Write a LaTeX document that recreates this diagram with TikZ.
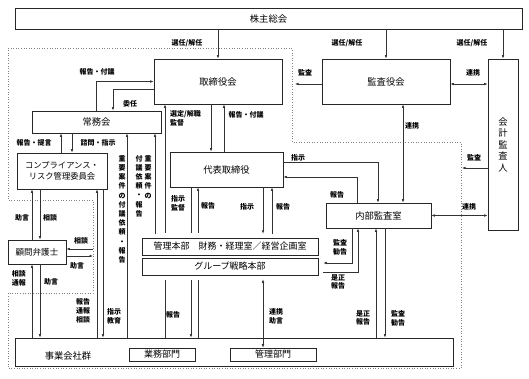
\documentclass[tikz,border=0pt]{standalone}
\usepackage{fontspec}
\setmainfont{Noto Sans CJK JP}
\usetikzlibrary{arrows.meta,backgrounds}
\begin{document}
\begin{tikzpicture}[x=1pt,y=-1pt,
  box/.style={draw=black!85, line width=0.8pt, fill=white, inner sep=0pt, font=\fontsize{9.3}{11}\selectfont},
  ibox/.style={box, line width=0.6pt, minimum width=176, minimum height=17, font=\fontsize{9}{10}\selectfont},
  title/.style={inner sep=0pt, font=\fontsize{9.3}{11}\selectfont},
  lbl/.style={inner sep=0pt, align=center, font=\bfseries\fontsize{7}{8.8}\selectfont},
  vlbl/.style={inner sep=0pt, align=center, anchor=north, font=\bfseries\fontsize{7}{9.2}\selectfont},
  conn/.style={draw=black!80, line width=0.6pt},
  arr/.style={conn, -{Latex[length=3.5pt,width=2.6pt]}},
  darr/.style={conn, {Latex[length=3.5pt,width=2.6pt]}-{Latex[length=3.5pt,width=2.6pt]}},
  zone/.style={draw=gray, dotted, line width=0.6pt},
]
\useasboundingbox (0,0) rectangle (529,378);

% ---------- boxes ----------
\node[box, minimum width=507, minimum height=21] (kabu) at (268.5,18.5) {株主総会};
\node[box, minimum width=128, minimum height=45] (tori) at (218,81.5) {取締役会};
\node[box, minimum width=128, minimum height=45] (kansa) at (386,81.5) {監査役会};
\node[box, minimum width=30, minimum height=171, align=center, font=\fontsize{9.3}{11.5}\selectfont] (kaikei) at (503,144.5) {会\\計\\監\\査\\人};
\node[box, minimum width=129, minimum height=22] (jomu) at (96.5,122) {常務会};
\node[box, minimum width=90, minimum height=36, align=center, font=\fontsize{8.3}{11}\selectfont] (comp) at (62,171) {コンプライアンス・\\リスク管理委員会};
\node[box, minimum width=113, minimum height=35] (daihyo) at (226.5,169.5) {代表取締役};
\node[box, minimum width=105, minimum height=25] (naibu) at (378.5,215.5) {内部監査室};
\node[box, minimum width=58, minimum height=24, font=\fontsize{8.5}{10}\selectfont] (komon) at (37,252) {顧問弁護士};
\node[draw=gray!80, double=white, double distance=1.2pt, line width=0.5pt, fill=white, minimum width=186, minimum height=45, inner sep=0pt] (kanri) at (230,256.5) {};
\node[ibox] (honbu) at (230,246.5) {管理本部　財務・経理室／経営企画室};
\node[ibox] (senryaku) at (230,266.5) {グループ戦略本部};
\node[box, minimum width=438, minimum height=28] (jigyo) at (234,352) {};
\node[title] (jigyoT) at (68,356) {事業会社群};
\node[box, line width=0.6pt, minimum width=66, minimum height=13, font=\fontsize{9}{10}\selectfont] (gyomu) at (162,354.5) {業務部門};
\node[box, line width=0.6pt, minimum width=86, minimum height=13, font=\fontsize{9}{10}\selectfont] (kanribu) at (273,354.5) {管理部門};

% ---------- guide coordinates ----------
\foreach \xx in {32,40,61,72,97,103,113,127,155,165,191,198,211,224,263,272,376,385,403}
  \coordinate (v\xx) at (\xx,0);
\coordinate (kansaEnd) at (295,84);
\coordinate (kaikeiEnd) at (462,168);
\coordinate (inin) at (113,89);
\coordinate (shijiN) at (378,162);
\coordinate (hokokuN) at (357,177);
\coordinate (kansaK) at (352,263);
\coordinate (zesei) at (358,272);
\coordinate (soudanR) at (93,249);
\coordinate (jogenR) at (93,256);

% ---------- background: zone and lines passing behind the kanri box ----------
\begin{pgfonlayer}{background}
\draw[zone] (8,48) -- (292,48) -- (292,142) -- (461,142) -- (461,368) -- (8,368) -- (8,293) -- (93,293) -- (93,200) -- (8,200) -- cycle;
\draw[arr] (jigyo.north -| v165) -- (tori.south -| v165);
\draw[arr] (daihyo.south -| v191) -- (jigyo.north -| v191);
\draw[arr] (jigyo.north -| v198) -- (daihyo.south -| v198);
\end{pgfonlayer}

% ---------- connectors ----------
\draw[arr] (kabu.south -| tori.north) -- (tori.north);
\draw[arr] (kabu.south -| kansa.north) -- (kansa.north);
\draw[arr] (kabu.south -| kaikei.north) -- (kaikei.north);
\draw[arr] (kansa.west |- kansaEnd) -- (kansaEnd);
\draw[darr] (kansa.east |- kansaEnd) -- (kaikei.west |- kansaEnd);
\draw[darr] (kansa.south -| v403) -- (naibu.north -| v403);
\draw[arr] (kaikei.west |- kaikeiEnd) -- (kaikeiEnd);
\draw[darr] (naibu.east) -- (kaikei.west |- naibu.east);

\draw[arr] (jomu.north) |- (tori.west);
\draw[arr] (tori.west |- inin) -| (jomu.north -| inin);
\draw[arr] (tori.south -| v211) -- (daihyo.north -| v211);
\draw[arr] (daihyo.north -| v224) -- (tori.south -| v224);

\draw[arr] (comp.north -| v61) -- (jomu.south -| v61);
\draw[arr] (jomu.south -| v72) -- (comp.north -| v72);
\draw[arr] (komon.north -| v32) -- (comp.south -| v32);
\draw[arr] (comp.south -| v40) -- (komon.north -| v40);
\draw[arr] (jigyo.north -| v32) -- (komon.south -| v32);
\draw[arr] (komon.south -| v40) -- (jigyo.north -| v40);
\draw[arr] (soudanR) -- (komon.east |- soudanR);
\draw[arr] (komon.east |- jogenR) -- (jogenR);

\draw[arr] (jigyo.north -| v97) -- (comp.south -| v97);
\draw[arr] (comp.south -| v103) -- (jigyo.north -| v103);
\draw[arr] (jigyo.north -| v127) -- (jomu.south -| v127);
\draw[arr] (kanri.north -| v155) -- (jomu.south -| v155);

\draw[arr] (daihyo.south -| v263) -- (kanri.north -| v263);
\draw[arr] (kanri.north -| v272) -- (daihyo.south -| v272);
\draw[darr] (kanri.south -| v263) -- (kanribu.north -| v263);

\draw[arr] (daihyo.east |- shijiN) -| (naibu.north -| shijiN);
\draw[arr] (naibu.north -| hokokuN) |- (daihyo.east |- hokokuN);
\draw[arr] (naibu.south -| kansaK) |- (kanri.east |- kansaK);
\draw[arr] (kanri.east |- zesei) -| (naibu.south -| zesei);
\draw[arr] (jigyo.north -| v376) -- (naibu.south -| v376);
\draw[arr] (naibu.south -| v385) -- (jigyo.north -| v385);

% ---------- labels ----------
\node[lbl] (l1) at (187,43) {選任/解任};
\node[lbl] (l2) at (347,43) {選任/解任};
\node[lbl] (l3) at (472,43) {選任/解任};
\node[lbl] (l4) at (305,73) {監査};
\node[lbl] (l5) at (473,73) {連携};
\node[lbl] (l6) at (97,72) {報告・付議};
\node[lbl] (l7) at (130,104) {委任};
\node[lbl, anchor=west, align=left] (l8) at (170,118) {選定/解職\\監督};
\node[lbl] (l9) at (246,115) {報告・付議};
\node[lbl] (l10) at (412,126) {連携};
\node[lbl] (l11) at (34,143) {報告・提言};
\node[lbl] (l12) at (98,143) {諮問・指示};
\node[lbl] (l13) at (298,158) {指示};
\node[lbl] (l14) at (474,158) {監査};
\node[lbl] (l15) at (337,195) {報告};
\node[lbl] (l16) at (469,207) {連携};
\node[lbl] (l17) at (178,203) {指示\\監督};
\node[lbl] (l18) at (208,206) {報告};
\node[lbl] (l19) at (247,207) {指示};
\node[lbl] (l20) at (283,207) {報告};
\node[lbl] (l21) at (22,218) {助言};
\node[lbl] (l22) at (50,218) {相談};
\node[lbl] (l23) at (81,241) {相談};
\node[lbl] (l24) at (77,266) {助言};
\node[lbl] (l25) at (19,278) {相談\\通報};
\node[lbl] (l26) at (51,282) {助言};
\node[lbl] (l27) at (340,247) {監査\\勧告};
\node[lbl] (l28) at (338,282) {是正\\報告};
\node[lbl] (l29) at (83,311) {報告\\通報\\相談};
\node[lbl] (l30) at (114,316) {指示\\教育};
\node[lbl] (l31) at (173,315) {報告};
\node[lbl] (l32) at (276,316) {連携\\助言};
\node[lbl] (l33) at (363,318) {是正\\報告};
\node[lbl] (l34) at (398,318) {監査\\勧告};
\node[vlbl] (l35) at (122,155) {重\\要\\案\\件\\の\\付\\議\\依\\頼\\・\\報\\告};
\node[vlbl] (l36) at (148,155) {重\\要\\案\\件\\の};
\node[vlbl] (l37) at (139,155) {付\\議\\依\\頼\\・\\報\\告};
\end{tikzpicture}
\end{document}
